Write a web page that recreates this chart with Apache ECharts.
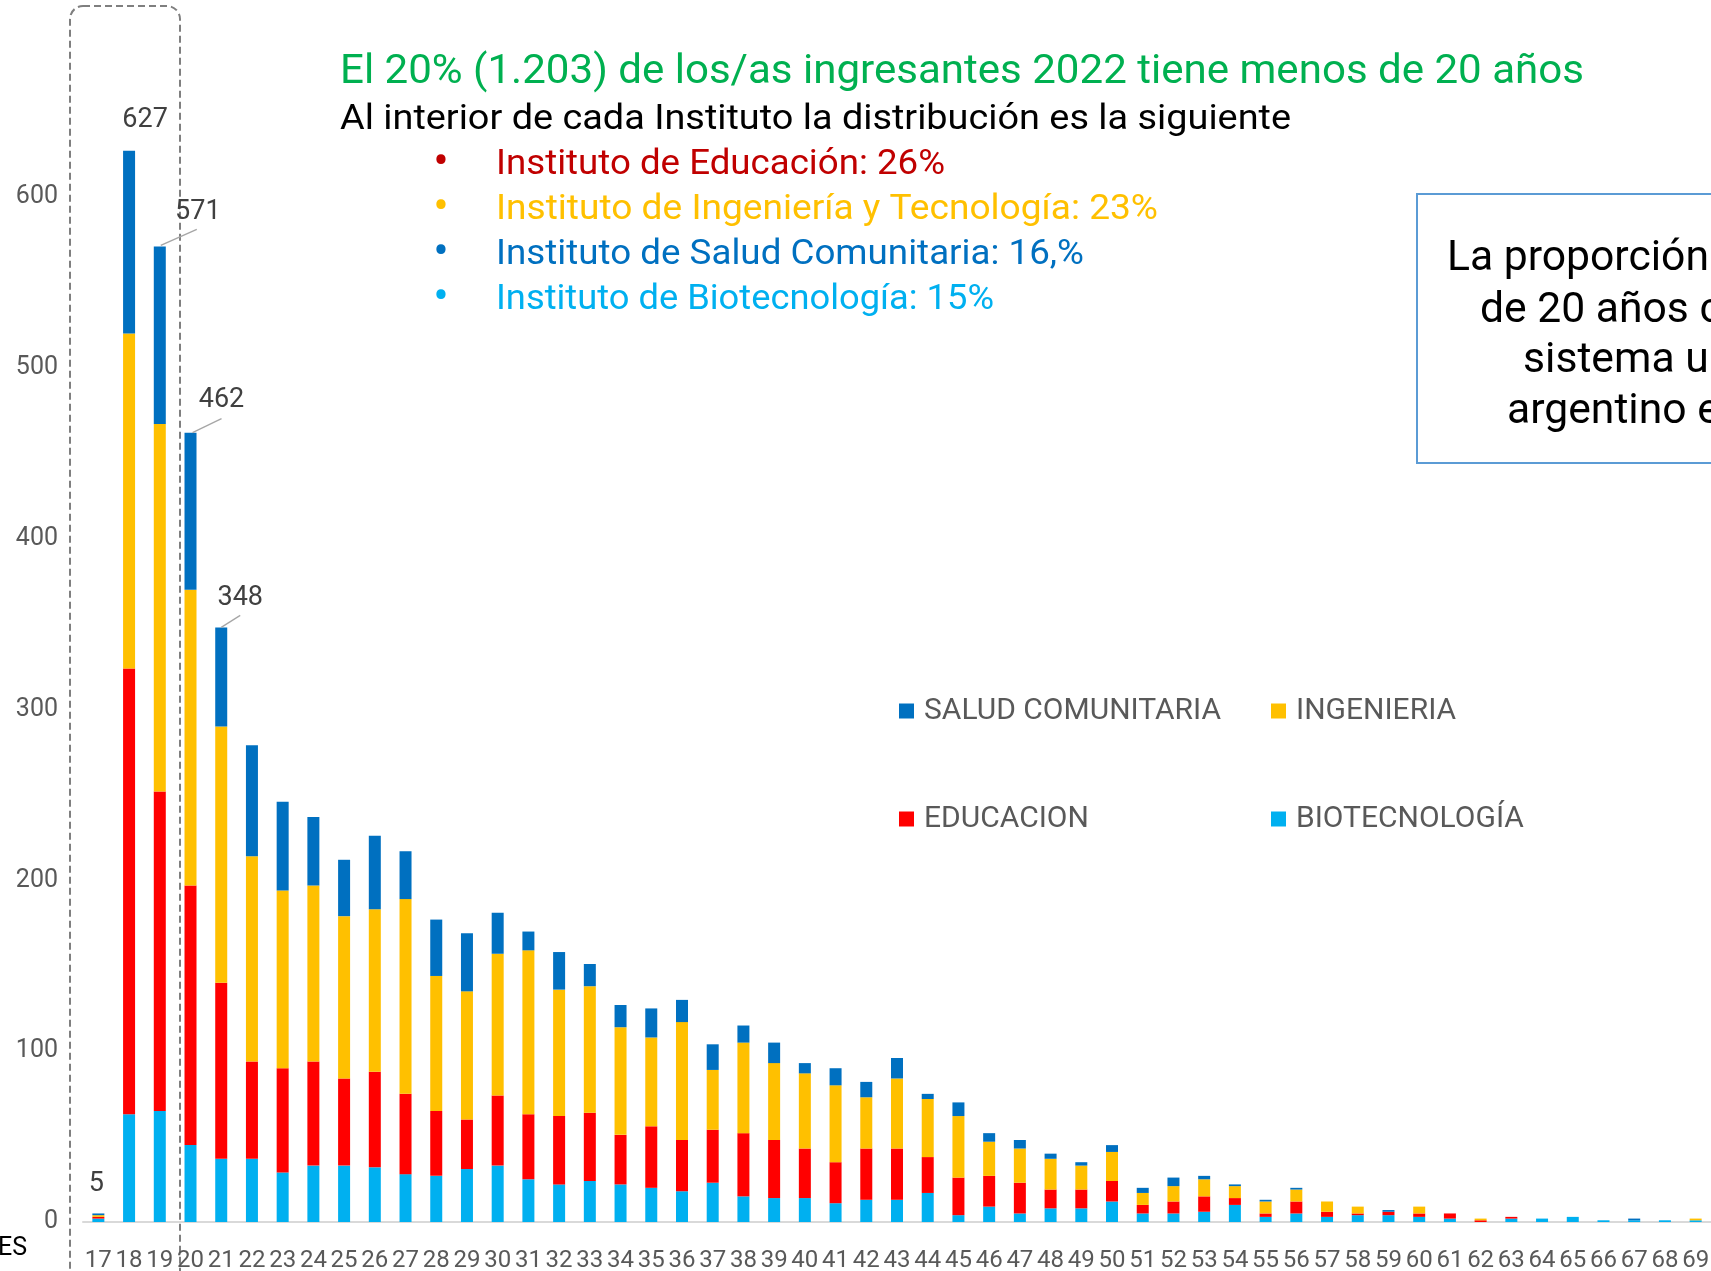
<!DOCTYPE html>
<html>
<head>
<meta charset="utf-8">
<script src="https://cdn.jsdelivr.net/npm/echarts@6/dist/echarts.min.js"></script>
<style>
  html, body { margin: 0; padding: 0; background: #fff; }
  #chart { width: 1711px; height: 1271px; }
</style>
</head>
<body>
<div id="chart"></div>
<script>
// edades (eje x)
var ages = ['17','18','19','20','21','22','23','24','25','26','27','28','29','30','31','32','33','34','35','36',
            '37','38','39','40','41','42','43','44','45','46','47','48','49','50','51','52','53','54','55','56',
            '57','58','59','60','61','62','63','64','65','66','67','68','69'];

// ingresantes por instituto
var biotecnologia = [2,63,65,45,37,37,29,33,33,32,28,27,31,33,25,22,24,22,20,18,
                     23,15,14,14,11,13,13,17,4,9,5,8,8,12,5,5,6,10,3,5,
                     3,4,4,3,2,0,2,2,3,1,1,1,1];
var educacion     = [1,261,187,152,103,57,61,61,51,56,47,38,29,41,38,40,40,29,36,30,
                     31,37,34,29,24,30,30,21,22,18,18,11,11,12,5,7,9,4,2,7,
                     3,1,2,2,3,1,1,0,0,0,0,0,0];
var ingenieria    = [1,196,215,173,150,120,104,103,95,95,114,79,75,83,96,74,74,63,52,69,
                     35,53,45,44,45,30,41,34,36,20,20,18,14,17,7,9,10,7,7,7,
                     6,4,0,4,0,1,0,0,0,0,0,0,1];
var salud         = [1,107,104,92,58,65,52,40,33,43,28,33,34,24,11,22,13,13,17,13,
                     15,10,12,6,10,9,12,3,8,5,5,3,2,4,3,5,2,1,1,1,
                     0,0,1,0,0,0,0,0,0,0,1,0,0];

var yTicks = { min: 0, max: 700, interval: 100 };

// totales (solo se rotulan las primeras edades)
var totals = ages.map(function (a, i) {
  return biotecnologia[i] + educacion[i] + ingenieria[i] + salud[i];
});

// posición de rótulos de totales (px respecto al tope de la barra)
var totalLabelPos = {
  0: { dx: -2, dy: -29 },
  1: { dx: 16, dy: -30 },
  2: { dx: 38, dy: -34, line: [1, -1, 37, -17] },
  3: { dx: 31, dy: -32, line: [2, 0, 31, -14] },
  4: { dx: 19, dy: -29, line: [0, 0, 19, -12] }
};

var FONT = 'Roboto';
var measureCtx = document.createElement('canvas').getContext('2d');

function fitText(text, x, y, size, color, width) {
  measureCtx.font = size + 'px ' + FONT;
  var w = measureCtx.measureText(text).width;
  return {
    type: 'text',
    x: x,
    y: y,
    scaleX: width ? width / w : 1,
    style: {
      text: text,
      fill: color,
      fontSize: size,
      fontFamily: FONT,
      align: 'left',
      verticalAlign: 'middle'
    }
  };
}

function bullet(x, y, color) {
  return {
    type: 'text', x: x, y: y,
    style: { text: '\u2022', fill: color, fontSize: 46, fontFamily: FONT, align: 'center', verticalAlign: 'middle' }
  };
}

// escala común del recuadro de la derecha
measureCtx.font = '42px ' + FONT;
var boxScale = 262 / measureCtx.measureText('La proporción').width;

function boxLine(text, x, y) {
  return {
    type: 'text', x: x, y: y, scaleX: boxScale,
    style: { text: text, fill: '#000000', fontSize: 42, fontFamily: FONT, align: 'left', verticalAlign: 'middle' }
  };
}

var barItem = function (name, data, color) {
  return {
    name: name,
    type: 'bar',
    stack: 'total',
    barWidth: 12,
    data: data,
    itemStyle: { color: color },
    emphasis: { disabled: true }
  };
};

var legendText = { fontSize: 30, fontFamily: FONT, color: '#595959', lineHeight: 30, padding: [0, 0, 0, 5] };

var option = {
  animation: false,
  backgroundColor: '#ffffff',
  grid: { left: 83, right: 0, top: 26, bottom: 49, outerBoundsMode: 'none' },
  legend: [
    {
      orient: 'vertical',
      left: 899, top: 696,
      padding: 0,
      itemGap: 78,
      itemWidth: 15, itemHeight: 15,
      icon: 'rect',
      textStyle: legendText,
      data: ['SALUD COMUNITARIA', 'EDUCACION']
    },
    {
      orient: 'vertical',
      left: 1271, top: 696,
      padding: 0,
      itemGap: 78,
      itemWidth: 15, itemHeight: 15,
      icon: 'rect',
      textStyle: legendText,
      data: ['INGENIERIA', 'BIOTECNOLOGÍA']
    }
  ],
  xAxis: {
    type: 'category',
    data: ages,
    axisLine: { lineStyle: { color: '#d9d9d9', width: 2 } },
    axisTick: { show: false },
    axisLabel: { interval: 0, margin: 27, fontSize: 24, fontFamily: FONT, color: '#595959' }
  },
  yAxis: {
    type: 'value',
    min: yTicks.min,
    max: yTicks.max,
    interval: yTicks.interval,
    splitLine: { show: false },
    axisLine: { show: false },
    axisTick: { show: false },
    axisLabel: { showMaxLabel: false, margin: 25, padding: [10, 0, 0, 0], fontSize: 25, fontFamily: FONT, color: '#595959' }
  },
  series: [
    barItem('BIOTECNOLOGÍA', biotecnologia, '#00b0f0'),
    barItem('EDUCACION', educacion, '#ff0000'),
    barItem('INGENIERIA', ingenieria, '#ffc000'),
    barItem('SALUD COMUNITARIA', salud, '#0070c0'),
    {
      name: 'total',
      type: 'custom',
      z: 5,
      silent: true,
      encode: { x: 0, y: 1 },
      data: totals.map(function (t, i) { return [i, t]; }),
      renderItem: function (params, api) {
        var cfg = totalLabelPos[params.dataIndex];
        if (!cfg) return null;
        var p = api.coord([api.value(0), api.value(1)]);
        var children = [{
          type: 'text',
          x: p[0] + cfg.dx,
          y: p[1] + cfg.dy,
          style: {
            text: String(api.value(1)),
            fill: '#404040',
            fontSize: 27,
            fontFamily: FONT,
            align: 'center',
            verticalAlign: 'middle'
          }
        }];
        if (cfg.line) {
          children.push({
            type: 'line',
            shape: { x1: p[0] + cfg.line[0], y1: p[1] + cfg.line[1], x2: p[0] + cfg.line[2], y2: p[1] + cfg.line[3] },
            style: { stroke: '#a6a6a6', lineWidth: 1.3 }
          });
        }
        return { type: 'group', children: children };
      }
    }
  ],
  graphic: [
    // recuadro punteado de menores de 20
    {
      type: 'rect',
      shape: { x: 70, y: 6, width: 110, height: 1400, r: 13 },
      style: { fill: null, stroke: '#7f7f7f', lineWidth: 2, lineDash: [7, 4] }
    },
    fitText('El 20% (1.203) de los/as ingresantes 2022 tiene menos de 20 años', 340, 73, 40, '#00b050', 1244),
    fitText('Al interior de cada Instituto la distribución es la siguiente', 340, 120, 35, '#000000', 951),
    bullet(441, 164, '#c00000'),
    fitText('Instituto de Educación: 26%', 496, 165, 35, '#c00000', 449),
    bullet(441, 209, '#ffc000'),
    fitText('Instituto de Ingeniería y Tecnología: 23%', 496, 210, 35, '#ffc000', 662),
    bullet(441, 254, '#0070c0'),
    fitText('Instituto de Salud Comunitaria: 16,%', 496, 255, 35, '#0070c0', 588),
    bullet(441, 299, '#00b0f0'),
    fitText('Instituto de Biotecnología: 15%', 496, 300, 35, '#00b0f0', 498),
    // recuadro de la derecha
    {
      type: 'rect',
      shape: { x: 1417, y: 194, width: 400, height: 269 },
      style: { fill: null, stroke: '#5b9bd5', lineWidth: 2 }
    },
    boxLine('La proporción', 1447, 259),
    boxLine('de 20 años c', 1480, 311),
    boxLine('sistema ur', 1523, 361),
    boxLine('argentino e', 1507, 412),
    {
      type: 'text', x: 27, y: 1249,
      style: { text: 'EDADES', fill: '#000000', fontSize: 25, fontFamily: FONT, align: 'right', verticalAlign: 'middle' }
    }
  ]
};

var chart = echarts.init(document.getElementById('chart'));
chart.setOption(option);
</script>
</body>
</html>
